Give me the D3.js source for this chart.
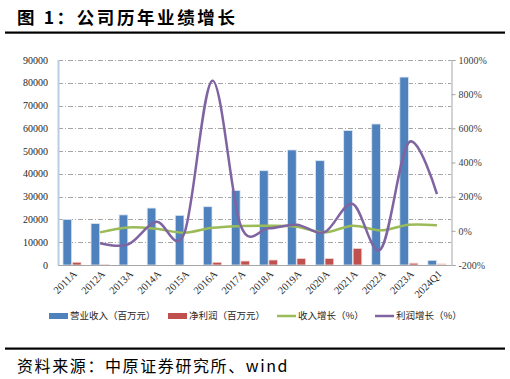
<!DOCTYPE html>
<html>
<head>
<meta charset="utf-8">
<script src="https://cdn.jsdelivr.net/npm/d3@7"></script>
<style>
  body { margin: 0; background: #fff; }
  svg { display: block; }
</style>
</head>
<body>
<svg id="chart"></svg>
<script>
const years = ['2011A', '2012A', '2013A', '2014A', '2015A', '2016A', '2017A', '2018A', '2019A', '2020A', '2021A', '2022A', '2023A', '2024Q1'];
const revenue = [20000, 18200, 22000, 25000, 21800, 25600, 32700, 41400, 50500, 45800, 59000, 61900, 82500, 2050];
const profit = [1200, 300, 0, 0, 0, 1200, 1750, 2200, 2900, 2900, 7300, 0, 800, 500];
const revGrowth = [null, -9, 20, 12, -11, 18, 28, 30, 24, -9, 30, 3, 36, 32];
const profGrowth = [null, -73, -79, 53, -15, 879, 34, 15, 36, -7, 157, -107, 518, 215];
const leftTicks = [0, 10000, 20000, 30000, 40000, 50000, 60000, 70000, 80000, 90000];
const rightTicks = [-200, 0, 200, 400, 600, 800, 1000];

const width = 510;
const height = 379;
const svg = d3.select('#chart').attr('width', width).attr('height', height);

const plotL = 58, plotR = 451, plotT = 60, plotB = 265;
const cjk = '"Noto Sans CJK SC", "Noto Sans", sans-serif';
const serif = '"Liberation Serif", "DejaVu Serif", serif';

// title + rules
svg.append('text')
    .attr('x', 17).attr('y', 24)
    .style('font-family', cjk).style('font-weight', 'bold').style('font-size', '17.5px')
    .style('letter-spacing', '2.6px')
    .text('图 1：公司历年业绩增长');
svg.append('rect').attr('x', 5).attr('y', 31.5).attr('width', 500).attr('height', 2.2).attr('fill', '#000');
svg.append('rect').attr('x', 5).attr('y', 347.5).attr('width', 500).attr('height', 2.2).attr('fill', '#000');
svg.append('text')
    .attr('x', 17).attr('y', 372)
    .style('font-family', cjk).style('font-size', '16px')
    .style('letter-spacing', '1.6px')
    .text('资料来源：中原证券研究所、wind');

const x = d3.scaleBand().domain(years).range([plotL, plotR]).paddingInner(0.3).paddingOuter(0.15);
const xs = d3.scaleBand().domain(['rev', 'prof']).range([0, x.bandwidth()]).padding(0.08);
const xc = d3.scalePoint().domain(years).range([plotL, plotR]).padding(0.5);
const y = d3.scaleLinear().domain([0, 90000]).range([plotB, plotT]);
const y2 = d3.scaleLinear().domain([-200, 1000]).range([plotB, plotT]);

// grid
svg.append('g')
    .selectAll('line')
    .data(leftTicks.slice(1))
    .enter().append('line')
    .attr('x1', plotL).attr('x2', plotR)
    .attr('y1', d => Math.round(y(d)) + 0.5).attr('y2', d => Math.round(y(d)) + 0.5)
    .attr('stroke', '#a6a6a6').attr('stroke-width', 1)
    .attr('stroke-dasharray', '5,2,1,2');

// bars
const grp = svg.append('g').selectAll('g')
    .data(years)
    .enter().append('g')
    .attr('transform', d => `translate(${x(d)},0)`);

grp.append('rect')
    .attr('x', xs('rev'))
    .attr('width', xs.bandwidth())
    .attr('y', (d, i) => y(revenue[i]))
    .attr('height', (d, i) => plotB - y(revenue[i]))
    .attr('fill', '#4f81bd')
    .attr('stroke', '#dce6f2').attr('stroke-width', 0.8);

grp.append('rect')
    .attr('x', xs('prof'))
    .attr('width', xs.bandwidth())
    .attr('y', (d, i) => y(profit[i]))
    .attr('height', (d, i) => plotB - y(profit[i]))
    .attr('fill', (d, i) => profit[i] < 600 ? '#e6b9b8' : '#c0504d')
    .attr('stroke', '#f2dcdb').attr('stroke-width', 0.8);

// lines
const line = d3.line()
    .x(d => xc(d.k))
    .y(d => y2(d.v))
    .curve(d3.curveCatmullRom.alpha(0));

svg.append('path')
    .datum(years.map((k, i) => ({ k: k, v: revGrowth[i] })).filter(d => d.v !== null))
    .attr('d', line)
    .attr('fill', 'none').attr('stroke', '#9bbb59').attr('stroke-width', 2.5);

svg.append('path')
    .datum(years.map((k, i) => ({ k: k, v: profGrowth[i] })).filter(d => d.v !== null))
    .attr('d', line)
    .attr('fill', 'none').attr('stroke', '#8064a2').attr('stroke-width', 2.5);

// axes
svg.append('line')
    .attr('x1', plotL + 0.5).attr('x2', plotL + 0.5).attr('y1', plotT).attr('y2', plotB)
    .attr('stroke', '#b9cde5').attr('stroke-width', 2);
svg.append('line')
    .attr('x1', plotL).attr('x2', plotR).attr('y1', plotB + 0.5).attr('y2', plotB + 0.5)
    .attr('stroke', '#a6a6a6');

const yAxisR = d3.axisRight(y2).tickValues(rightTicks).tickSize(4).tickFormat(d => d + '%');
const gR = svg.append('g').attr('transform', `translate(${plotR + 0.5},0)`).call(yAxisR);
gR.select('.domain').attr('stroke', '#a6a6a6');
gR.selectAll('.tick line').attr('stroke', '#a6a6a6');
gR.selectAll('text')
    .attr('x', 7)
    .style('font-family', serif).style('font-size', '10px').attr('fill', '#404040');

svg.append('g').selectAll('text')
    .data(leftTicks)
    .enter().append('text')
    .attr('x', 48).attr('y', d => y(d) + 3.5)
    .attr('text-anchor', 'end')
    .style('font-family', serif).style('font-size', '10px').attr('fill', '#262626')
    .text(d => d);

svg.append('g').selectAll('text')
    .data(years)
    .enter().append('text')
    .attr('transform', d => `translate(${xc(d) + 3},${plotB + 7}) rotate(-45)`)
    .attr('text-anchor', 'end')
    .attr('dy', '0.35em')
    .style('font-family', serif).style('font-size', '10.5px').attr('fill', '#262626')
    .text(d => d);

// legend
const legend = [
    { name: '营业收入（百万元）', color: '#4f81bd', type: 'rect', x: 49 },
    { name: '净利润（百万元）', color: '#c0504d', type: 'rect', x: 168 },
    { name: '收入增长（%）', color: '#9bbb59', type: 'line', x: 277 },
    { name: '利润增长（%）', color: '#8064a2', type: 'line', x: 375 }
];
const lg = svg.append('g').selectAll('g')
    .data(legend)
    .enter().append('g')
    .attr('transform', d => `translate(${d.x},316)`);
lg.filter(d => d.type === 'rect').append('rect')
    .attr('x', 0).attr('y', -3).attr('width', 19).attr('height', 6)
    .attr('fill', d => d.color);
lg.filter(d => d.type === 'line').append('line')
    .attr('x1', 0).attr('x2', 19)
    .attr('stroke', d => d.color).attr('stroke-width', 2.5);
lg.append('text')
    .attr('x', 21).attr('dy', '0.35em')
    .style('font-family', cjk).style('font-size', '9.5px').attr('fill', '#262626')
    .text(d => d.name);
</script>
</body>
</html>
